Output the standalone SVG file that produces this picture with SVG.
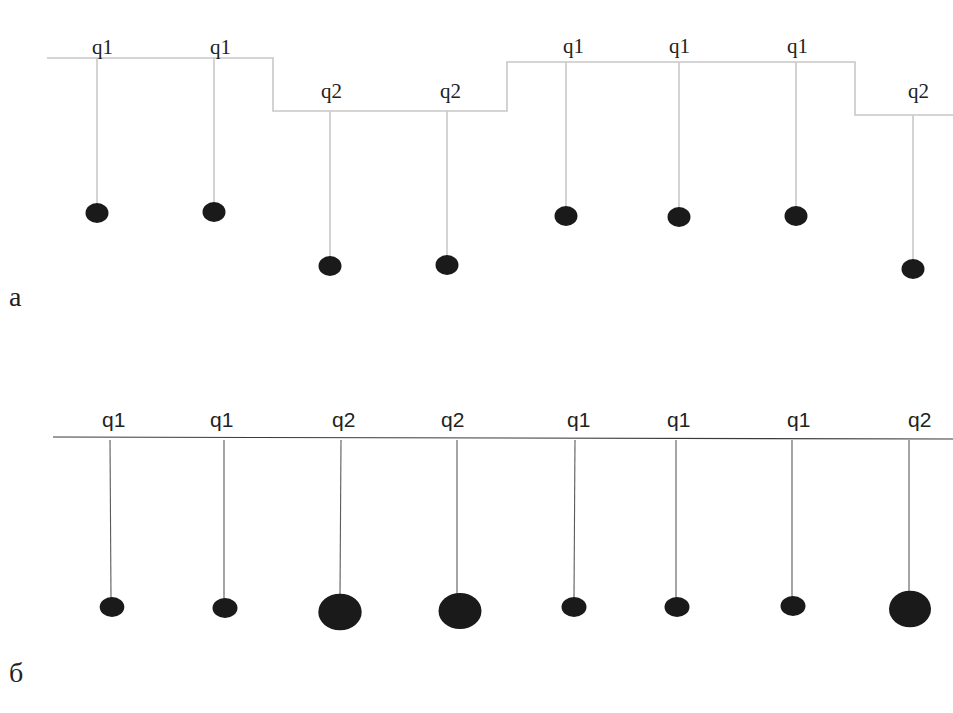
<svg xmlns="http://www.w3.org/2000/svg" width="953" height="713" viewBox="0 0 953 713">
<style>
.bg{fill:#ffffff}
.rail-a{fill:none;stroke:#c8c8c8;stroke-width:1.6}
.str-a{stroke:#c8c8c8;stroke-width:1.6}
.rail-b{fill:none;stroke:#3a3a3a;stroke-width:1.1}
.str-b{stroke:#5a5a5a;stroke-width:1.1}
.ball{fill:#1a1a1a}
.ta{font-family:"Liberation Serif","Times New Roman",serif;font-size:21px;fill:#222}
.tb{font-family:"Liberation Sans",Arial,sans-serif;font-size:21px;fill:#222}
.cap{font-family:"Liberation Serif","Times New Roman",serif;font-size:28px;fill:#222}
</style>
<rect class="bg" x="0" y="0" width="953" height="713"/>
<g id="connectors">
  <polyline class="rail-a" points="47,58 273,58 273,111 507,111 507,62 855,62 855,115 953,115"/>
  <line class="str-a" x1="97" y1="58" x2="97" y2="205"/>
  <line class="str-a" x1="214" y1="58" x2="214" y2="204"/>
  <line class="str-a" x1="330" y1="111" x2="330" y2="258"/>
  <line class="str-a" x1="447" y1="111" x2="447" y2="257"/>
  <line class="str-a" x1="566" y1="62" x2="566" y2="208"/>
  <line class="str-a" x1="679" y1="62" x2="679" y2="209"/>
  <line class="str-a" x1="796" y1="62" x2="796" y2="208"/>
  <line class="str-a" x1="913" y1="115" x2="913" y2="261"/>
  <line class="rail-b" x1="53" y1="437" x2="953" y2="439"/>
  <line class="str-b" x1="110" y1="440" x2="111" y2="598"/>
  <line class="str-b" x1="224" y1="440" x2="224" y2="599"/>
  <line class="str-b" x1="341" y1="440" x2="340" y2="595"/>
  <line class="str-b" x1="457" y1="440" x2="457" y2="594"/>
  <line class="str-b" x1="575" y1="440" x2="574" y2="598"/>
  <line class="str-b" x1="676" y1="440" x2="676" y2="598"/>
  <line class="str-b" x1="792" y1="440" x2="792" y2="597"/>
  <line class="str-b" x1="909" y1="440" x2="909" y2="592"/>
</g>
<g id="a1"><text class="ta" x="92" y="54">q1</text><ellipse class="ball" cx="97" cy="213" rx="11.5" ry="10"/></g>
<g id="a2"><text class="ta" x="210" y="54">q1</text><ellipse class="ball" cx="214" cy="212" rx="11.5" ry="10"/></g>
<g id="a3"><text class="ta" x="321" y="98">q2</text><ellipse class="ball" cx="330" cy="266" rx="11.5" ry="10"/></g>
<g id="a4"><text class="ta" x="440" y="98">q2</text><ellipse class="ball" cx="447" cy="265" rx="11.5" ry="10"/></g>
<g id="a5"><text class="ta" x="563" y="53">q1</text><ellipse class="ball" cx="566" cy="216" rx="11.5" ry="10"/></g>
<g id="a6"><text class="ta" x="669" y="53">q1</text><ellipse class="ball" cx="679" cy="217" rx="11.5" ry="10"/></g>
<g id="a7"><text class="ta" x="787" y="53">q1</text><ellipse class="ball" cx="796" cy="216" rx="11.5" ry="10"/></g>
<g id="a8"><text class="ta" x="908" y="98">q2</text><ellipse class="ball" cx="913" cy="269" rx="11.5" ry="10"/></g>
<g id="b1"><text class="tb" x="102" y="427">q1</text><ellipse class="ball" cx="112" cy="607" rx="12.3" ry="10"/></g>
<g id="b2"><text class="tb" x="210" y="427">q1</text><ellipse class="ball" cx="225" cy="608" rx="12.5" ry="10"/></g>
<g id="b3"><text class="tb" x="332" y="427">q2</text><ellipse class="ball" cx="340" cy="612" rx="21.7" ry="18.3"/></g>
<g id="b4"><text class="tb" x="441" y="427">q2</text><ellipse class="ball" cx="460" cy="611" rx="21.5" ry="18"/></g>
<g id="b5"><text class="tb" x="567" y="427">q1</text><ellipse class="ball" cx="574" cy="607" rx="12.5" ry="10"/></g>
<g id="b6"><text class="tb" x="667" y="427">q1</text><ellipse class="ball" cx="677" cy="607" rx="12.5" ry="10"/></g>
<g id="b7"><text class="tb" x="787" y="427">q1</text><ellipse class="ball" cx="793" cy="606" rx="12.5" ry="10"/></g>
<g id="b8"><text class="tb" x="908" y="427">q2</text><ellipse class="ball" cx="910" cy="609" rx="21" ry="18.3"/></g>
<text class="cap" x="9" y="306">а</text>
<text class="cap" x="9" y="682">б</text>
</svg>
